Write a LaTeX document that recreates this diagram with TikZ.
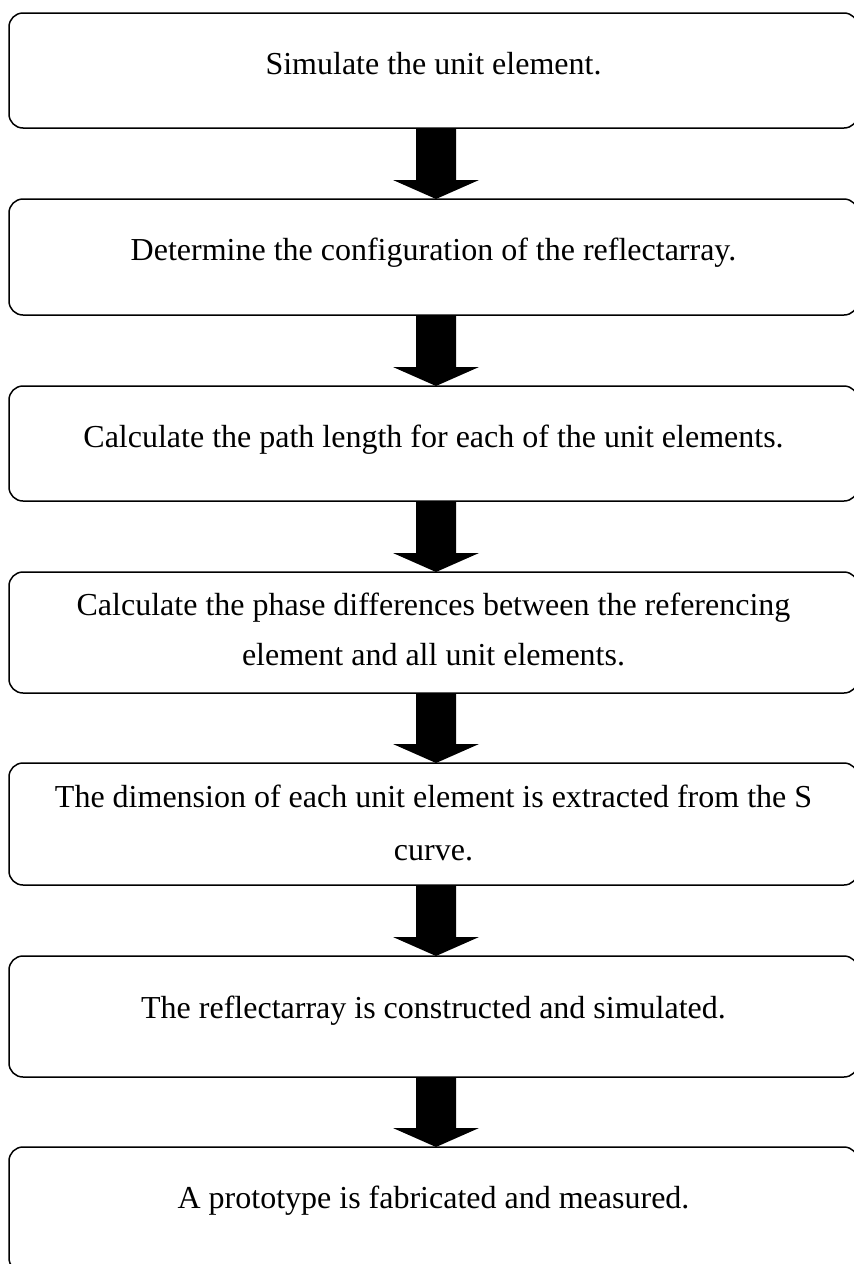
\documentclass[tikz,border=0pt]{standalone}
\usepackage{fontspec}
\setmainfont{Liberation Serif}
\usetikzlibrary{calc}
\tikzset{
  stepbox/.style={draw=black, line width=1.5pt, rounded corners=14pt, fill=white,
    inner sep=0pt, outer sep=0pt, anchor=north west, minimum width=849pt},
  steptext/.style={anchor=base, inner sep=0pt, font=\fontsize{32}{38}\selectfont},
}
\newcommand\flowarrow[2]{%
  \fill[black] ($(ax |- #1.south)+(-20pt,0)$) -- ($(ax |- #1.south)+(20pt,0)$)
    -- ($(ax |- #2.north)+(20pt,19pt)$) -- ($(ax |- #2.north)+(43pt,19pt)$)
    -- (ax |- #2.north) -- ($(ax |- #2.north)+(-43pt,19pt)$)
    -- ($(ax |- #2.north)+(-20pt,19pt)$) -- cycle;}
\begin{document}
\begin{tikzpicture}[x=1pt,y=-1pt]
\useasboundingbox (0,0) rectangle (854,1264);
\coordinate (ax) at (436,0);
\node[stepbox, minimum height=115pt] (b1) at (9,13) {};
\node[stepbox, minimum height=116pt] (b2) at (9,199) {};
\node[stepbox, minimum height=115pt] (b3) at (9,386) {};
\node[stepbox, minimum height=121pt] (b4) at (9,572) {};
\node[stepbox, minimum height=122pt] (b5) at (9,763) {};
\node[stepbox, minimum height=121pt] (b6) at (9,956) {};
\node[stepbox, minimum height=125pt] (b7) at (9,1147) {};

\node[steptext] (t1) at ($(b1.north)+(0,-61pt)$) {Simulate the unit element.};
\node[steptext] (t2) at ($(b2.north)+(0,-61pt)$) {Determine the configuration of the reflectarray.};
\node[steptext] (t3) at ($(b3.north)+(0,-61pt)$) {Calculate the path length for each of the unit elements.};
\node[steptext] (t4a) at ($(b4.north)+(0,-43pt)$) {Calculate the phase differences between the referencing};
\node[steptext] (t4b) at ($(b4.north)+(0,-93pt)$) {element and all unit elements.};
\node[steptext] (t5a) at ($(b5.north)+(0,-44pt)$) {The dimension of each unit element is extracted from the S};
\node[steptext] (t5b) at ($(b5.north)+(0,-97pt)$) {curve.};
\node[steptext] (t6) at ($(b6.north)+(0,-62pt)$) {The reflectarray is constructed and simulated.};
\node[steptext] (t7) at ($(b7.north)+(0,-61pt)$) {A prototype is fabricated and measured.};

\flowarrow{b1}{b2}
\flowarrow{b2}{b3}
\flowarrow{b3}{b4}
\flowarrow{b4}{b5}
\flowarrow{b5}{b6}
\flowarrow{b6}{b7}
\end{tikzpicture}
\end{document}
